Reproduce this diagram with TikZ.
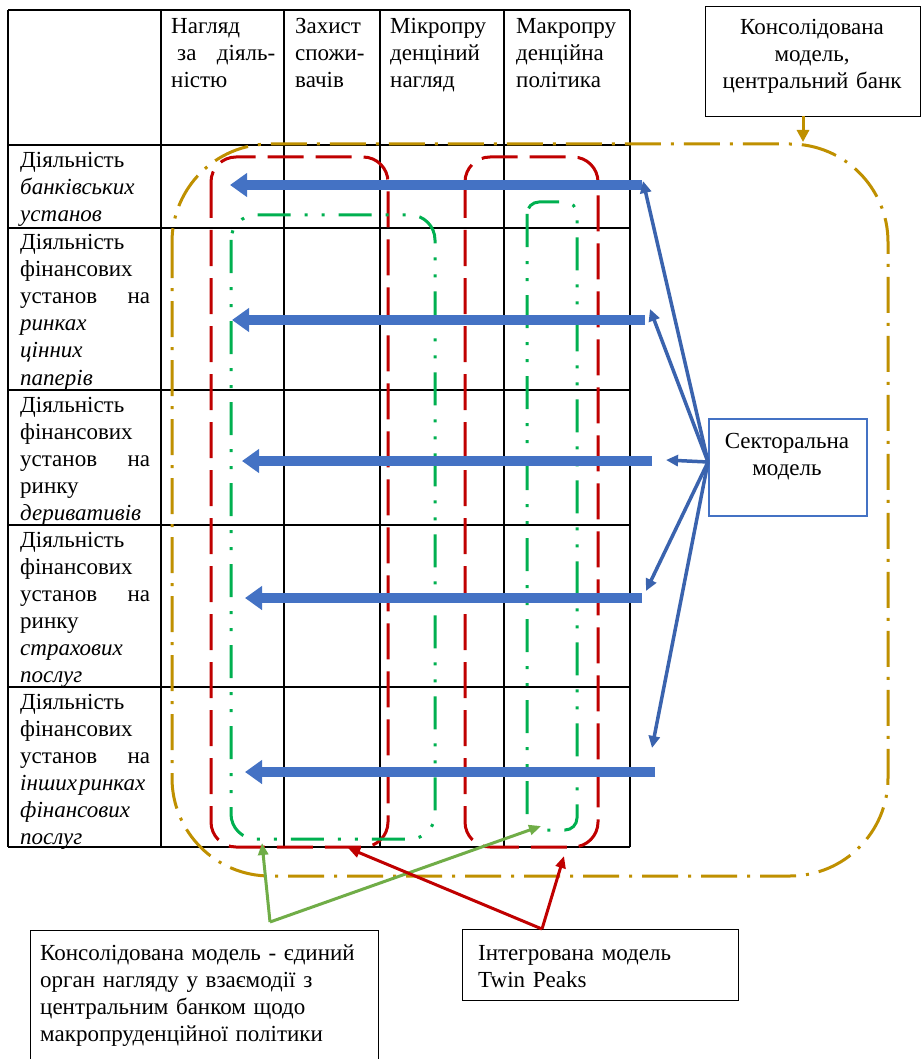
\documentclass[tikz,border=0pt]{standalone}
\usepackage{fontspec}
\setmainfont{Liberation Serif}
\usetikzlibrary{arrows.meta}
\definecolor{cgold}{HTML}{BF9000}
\definecolor{cred}{HTML}{C00000}
\definecolor{cgreen}{HTML}{00B050}
\definecolor{cblue}{HTML}{4472C4}
\definecolor{cdblue}{HTML}{3A63AE}
\definecolor{clgreen}{HTML}{70AD47}
\begin{document}
\begin{tikzpicture}[x=1pt,y=-1pt, font=\fontsize{23}{27}\selectfont,
  grid/.style={line width=1.2pt, black},
  txt/.style={inner sep=0pt, anchor=base west, align=left},
  ctxt/.style={inner sep=0pt, anchor=base, align=center},
  goldline/.style={cgold, line width=3pt, dash pattern=on 36pt off 10pt on 3pt off 10pt},
  redline/.style={cred, line width=3pt, dash pattern=on 36pt off 12pt},
  greenline/.style={cgreen, line width=3pt, dash pattern=on 33pt off 14pt on 3pt off 14pt on 3pt off 14pt},
  thickarrow/.style={cblue, line width=10pt, -{Triangle[length=17pt,width=23pt]}},
  thinarrow/.style={cdblue, line width=3.5pt, -{Triangle[length=12pt,width=11pt]}},
  greenarrow/.style={clgreen, line width=3pt, -{Triangle[length=12pt,width=10pt]}},
  redarrow/.style={cred, line width=3pt, -{Triangle[length=12pt,width=10pt]}},
  goldarrow/.style={cgold, line width=3pt, -{Triangle[length=12pt,width=12pt]}},
  box/.style={draw, black, line width=1.2pt, inner sep=0pt, anchor=north west},
]
\useasboundingbox (0,0) rectangle (921,1059);
\fill[white] (0,0) rectangle (921,1059);

% table grid
\foreach \x in {8,161,284,380,504,630} \draw[grid] (\x,10) -- (\x,847);
\foreach \y in {10,145,228,390,525,687,847} \draw[grid] (8,\y) -- (630,\y);

% header
\node[txt, text width=104pt] (h1) at (171,34) {Нагляд\\\hspace*{6pt}за\hfill діяль-\\ністю};
\node[txt, text width=85pt] (h2) at (295,34) {Захист\\спожи-\\вачів};
\node[txt, text width=115pt] (h3) at (390,34) {Мікропру\\денціний\\нагляд};
\node[txt, text width=115pt] (h4) at (516,34) {Макропру\\денційна\\політика};

% rows
\node[txt, text width=130pt] (r1) at (20,168) {Діяльність\\\textit{банківських}\\\textit{установ}};
\node[txt, text width=130pt] (r2) at (20,250) {Діяльність\\фінансових\\установ\hfill на\\\textit{ринках}\\\textit{цінних}\\\textit{паперів}};
\node[txt, text width=130pt] (r3) at (20,412) {Діяльність\\фінансових\\установ\hfill на\\ринку\\\textit{деривативів}};
\node[txt, text width=130pt] (r4) at (20,547) {Діяльність\\фінансових\\установ\hfill на\\ринку\\\textit{страхових}\\\textit{послуг}};
\node[txt, text width=130pt] (r5) at (20,709) {Діяльність\\фінансових\\установ\hfill на\\\mbox{\textit{інших\hspace{2pt}ринках}}\\\textit{фінансових}\\\textit{послуг}};

% gold consolidated outline
\draw[goldline, rounded corners=98pt] (172,144) rectangle (888,876);
% red twin peaks
\draw[redline, rounded corners=25pt] (211,157) rectangle (388,847);
\draw[redline, rounded corners=25pt] (465,157) rectangle (598,847);
% green
\draw[greenline, rounded corners=25pt] (231,215) rectangle (435,839);
\draw[greenline, rounded corners=12pt] (527,202) rectangle (577,830);

% boxes
\node[box, minimum width=215pt, minimum height=110pt] (cons) at (705,6) {};
\node[ctxt, text width=210pt] (constext) at (812,35) {Консолідована\\модель,\\центральний банк};

\node[box, draw=cblue, line width=1.5pt, minimum width=158pt, minimum height=97pt] (sect) at (708,418) {};
\node[ctxt, text width=155pt] (secttext) at (787,448) {Секторальна\\модель};

\node[box, minimum width=348pt, minimum height=140pt] (cbox) at (30,930) {};
\node[txt, text width=340pt] (cboxtext) at (40,960) {Консолідована модель - єдиний\\орган нагляду у взаємодії з\\центральним банком щодо\\макропруденційної політики};

\node[box, minimum width=276pt, minimum height=71pt] (tbox) at (462,929) {};
\node[txt, text width=250pt] (tboxtext) at (478,960) {Інтегрована модель\\Twin Peaks};

% thick blue arrows
\coordinate (t1) at (642,185); \coordinate (e1) at (230,185);
\coordinate (t2) at (645,320); \coordinate (e2) at (232,320);
\coordinate (t3) at (652,461); \coordinate (e3) at (242,461);
\coordinate (t4) at (642,598); \coordinate (e4) at (245,598);
\coordinate (t5) at (655,772); \coordinate (e5) at (245,772);
\foreach \i in {1,...,5} \draw[thickarrow] (t\i) -- (e\i);

% thin blue arrows
\coordinate (sc) at (708,462);
\coordinate (p1) at (643,181);
\coordinate (p2) at (650,309);
\coordinate (p3) at (666,460);
\coordinate (p4) at (646,591);
\coordinate (p5) at (652,748);
\foreach \i in {1,...,5} \draw[thinarrow] (sc) -- (p\i);

% gold arrow
\coordinate (cg) at (803,116);
\coordinate (cgt) at (803,142);
\draw[goldarrow] (cg) -- (cgt);

% green arrows
\coordinate (ga) at (270,922);
\coordinate (g1) at (262,843);
\coordinate (g2) at (541,826);
\draw[greenarrow] (ga) -- (g1);
\draw[greenarrow] (ga) -- (g2);

% red arrows
\coordinate (ra) at (542,929);
\coordinate (q1) at (348,848);
\coordinate (q2) at (564,856);
\draw[redarrow] (ra) -- (q1);
\draw[redarrow] (ra) -- (q2);
\end{tikzpicture}
\end{document}
